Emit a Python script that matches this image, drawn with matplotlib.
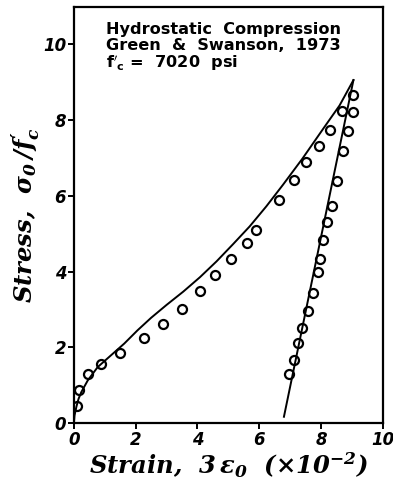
import matplotlib
matplotlib.use('Agg')
import matplotlib.pyplot as plt
from matplotlib.font_manager import FontProperties

# measured points (circles)
load_x = [0.11, 0.18, 0.45, 0.88, 1.50, 2.28, 2.87, 3.50, 4.09, 4.57, 5.08, 5.60, 5.90, 6.65, 7.11, 7.50, 7.95, 8.28, 8.67, 9.05]
load_y = [0.45, 0.87, 1.30, 1.57, 1.86, 2.25, 2.62, 3.01, 3.50, 3.90, 4.33, 4.75, 5.10, 5.88, 6.42, 6.88, 7.30, 7.74, 8.24, 8.66]

unload_x = [9.03, 8.89, 8.72, 8.53, 8.35, 8.21, 8.07, 7.98, 7.89, 7.73, 7.59, 7.38, 7.27, 7.11, 6.95]
unload_y = [8.20, 7.72, 7.18, 6.38, 5.74, 5.30, 4.83, 4.34, 3.98, 3.44, 2.95, 2.51, 2.11, 1.66, 1.30]

# model curves
model_x = [0, 0.02, 0.08, 0.15, 0.24, 0.45, 0.77, 1.2, 1.63, 2.06, 2.5, 3.0, 3.54, 4.08,
           4.62, 5.15, 5.69, 6.23, 6.77, 7.4, 8.1, 8.6, 9.05]
model_y = [0, 0.2, 0.43, 0.64, 0.82, 1.13, 1.48, 1.79, 2.10, 2.45, 2.78, 3.12, 3.47, 3.85,
           4.27, 4.72, 5.19, 5.72, 6.29, 6.98, 7.80, 8.38, 9.05]

unload_line_x = [6.8, 9.05]
unload_line_y = [0.17, 9.05]

ticks = [0, 2, 4, 6, 8, 10]

plt.rcParams['mathtext.fontset'] = 'custom'
plt.rcParams['mathtext.it'] = 'DejaVu Serif:italic:bold'
plt.rcParams['mathtext.rm'] = 'DejaVu Serif:italic:bold'
plt.rcParams['mathtext.bf'] = 'DejaVu Serif:italic:bold'

fig = plt.figure(figsize=(3.93, 4.87), dpi=100, facecolor='white')
ax = fig.add_axes([0.188, 0.131, 0.786, 0.854])

ax.plot(model_x, model_y, color='black', linewidth=1.4)
ax.plot(unload_line_x, unload_line_y, color='black', linewidth=1.4)
ax.plot(load_x, load_y, 'o', mfc='none', mec='black', ms=6.5, mew=1.6)
ax.plot(unload_x, unload_y, 'o', mfc='none', mec='black', ms=6.5, mew=1.6)

ax.set_xlim(0, 10)
ax.set_ylim(0, 10.97)
ax.set_xticks(ticks)
ax.set_yticks(ticks)

tick_font = FontProperties(family='DejaVu Sans', weight='bold', style='italic', size=12)
for lab in ax.get_xticklabels() + ax.get_yticklabels():
    lab.set_fontproperties(tick_font)
ax.tick_params(direction='out', length=4, width=1.4, pad=1.5)
for sp in ax.spines.values():
    sp.set_linewidth(1.6)

lab_font = dict(family='DejaVu Serif', style='italic', weight='bold', size=17.5)
ax.set_xlabel(r'Strain,  $3\,\varepsilon_0$  $(\times10^{-2})$', labelpad=1, **lab_font)
ax.set_ylabel(r"Stress,  $\sigma_0\,/f_c'$", labelpad=1, **lab_font)

ann = dict(family='DejaVu Sans', weight='bold', size=11.6, transform=ax.transAxes,
           va='baseline', ha='left')
ax.text(0.104, 0.935, 'Hydrostatic  Compression', **ann)
ax.text(0.104, 0.898, 'Green  &  Swanson,  1973', **ann)
ax.text(0.104, 0.853, r"$\mathbf{f'_c}$ =  7020  psi", math_fontfamily='dejavusans', **ann)

fig.savefig('out.png', dpi=100, facecolor='white')
